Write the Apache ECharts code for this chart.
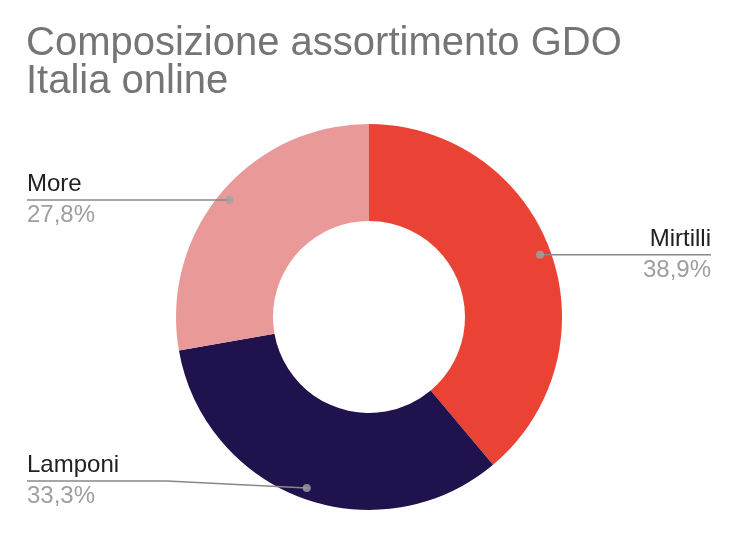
<!DOCTYPE html>
<html>
<head>
<meta charset="utf-8">
<script src="https://cdn.jsdelivr.net/npm/echarts@6/dist/echarts.min.js"></script>
<style>
  html, body { margin: 0; padding: 0; background: #fff; }
  #chart { width: 737px; height: 536px; }
</style>
</head>
<body>
<div id="chart"></div>
<script>
// dati del grafico
var categorie = ['Mirtilli', 'Lamponi', 'More'];
var valori = [7, 6, 5];
var colori = ['#ea4335', '#20124d', '#ea9999'];
var titolo = 'Composizione assortimento GDO\nItalia online';

var myChart = echarts.init(document.getElementById('chart'));

var totale = valori.reduce(function (a, b) { return a + b; }, 0);

// punto medio di ogni fetta (per i pallini delle linee guida)
var cumulato = 0;
var medie = valori.map(function (v) {
    var m = cumulato + v / 2;
    cumulato += v;
    return m;
});

var CX = 369, CY = 317, R_OUT = 193, R_IN = 96, R_DOT = 182;
var font = 'Liberation Sans, Arial, sans-serif';

var dati = categorie.map(function (c, i) {
    return { name: c, value: valori[i], itemStyle: { color: colori[i] } };
});

option = {
    animation: false,
    backgroundColor: '#fff',
    title: {
        text: titolo,
        left: 26,
        top: 25,
        padding: 0,
        textStyle: {
            fontFamily: font,
            fontSize: 40,
            lineHeight: 38,
            fontWeight: 'normal',
            color: '#757575'
        }
    },
    polar: {
        center: [CX, CY],
        radius: R_OUT
    },
    angleAxis: {
        type: 'value', min: 0, max: totale, startAngle: 90, clockwise: true, show: false
    },
    radiusAxis: {
        type: 'value', min: 0, max: R_OUT, show: false
    },
    series: [
        {   // ciambella
            type: 'pie',
            center: [CX, CY],
            radius: [R_IN, R_OUT],
            startAngle: 90,
            clockwise: true,
            silent: true,
            label: { show: false },
            labelLine: { show: false },
            data: dati
        },
        {   // serie invisibile per etichette e linee guida
            type: 'pie',
            center: [CX, CY],
            radius: [0, R_DOT],
            startAngle: 90,
            clockwise: true,
            silent: true,
            z: 3,
            itemStyle: { color: 'rgba(0,0,0,0)' },
            label: {
                show: true,
                position: 'outside',
                formatter: function (p) {
                    var pct = p.percent.toFixed(1).replace('.', ',') + '%';
                    return '{n|' + p.name + '}\n{p|' + pct + '}';
                },
                rich: {
                    n: { fontFamily: font, fontSize: 24, lineHeight: 31, color: '#212121' },
                    p: { fontFamily: font, fontSize: 24, lineHeight: 31, color: '#9e9e9e' }
                }
            },
            labelLine: {
                show: true,
                length: 0,
                length2: 10,
                lineStyle: { color: '#888888', width: 1.6 }
            },
            labelLayout: function (p) {
                var start = p.labelLinePoints[0];
                var w = myChart.getWidth(), h = myChart.getHeight();
                var left = start[0] < w / 2;
                var edgeX = left ? 27 : w - 26;
                var y = Math.min(start[1], h - 55);
                return {
                    x: edgeX,
                    y: y,
                    align: left ? 'left' : 'right',
                    verticalAlign: 'middle',
                    labelLinePoints: [start, [(start[0] + edgeX) / 2, y], [edgeX, y]]
                };
            },
            data: dati.map(function (d) { return { name: d.name, value: d.value }; })
        },
        {   // pallini all'inizio delle linee guida
            type: 'scatter',
            coordinateSystem: 'polar',
            symbolSize: 8,
            silent: true,
            z: 4,
            itemStyle: { color: '#a3a3a3' },
            data: medie.map(function (m) { return [R_DOT, m]; })
        }
    ]
};

myChart.setOption(option);
</script>
</body>
</html>
